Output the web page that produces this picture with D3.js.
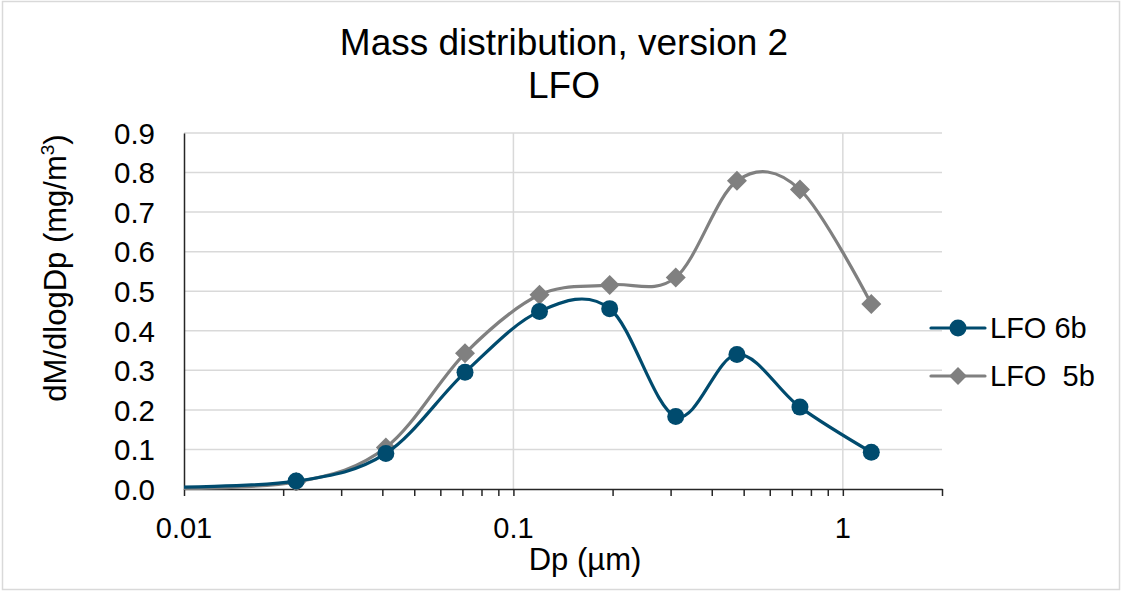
<!DOCTYPE html>
<html><head><meta charset="utf-8">
<script src="https://cdn.jsdelivr.net/npm/d3@7"></script>
<style>body{margin:0;background:#fff}svg{display:block;font-family:"Liberation Sans",Arial,sans-serif}</style>
</head><body><svg id="c" width="1122" height="592"></svg>
<script>
// diameters (µm); first entry is the off-axis lead point that the curve comes from
const dp = [0.0085, 0.0219, 0.041, 0.0713, 0.12, 0.196, 0.311, 0.477, 0.741, 1.22];
const lfo6b = [0.004, 0.02, 0.09, 0.295, 0.449, 0.456, 0.183, 0.34, 0.207, 0.093];
const lfo5b = [0.001, 0.018, 0.105, 0.343, 0.491, 0.516, 0.535, 0.779, 0.757, 0.468];
const yTicks = [0, 0.1, 0.2, 0.3, 0.4, 0.5, 0.6, 0.7, 0.8, 0.9];
const xMajor = [0.01, 0.1, 1];
const seriesNames = ["LFO 6b", "LFO  5b"];

const svg = d3.select("#c");
const L = 184, R = 942, T = 133, B = 489;
const x = d3.scaleLog().domain([0.01, 2]).range([L, R]);
const y = d3.scaleLinear().domain([0, 0.9]).range([B, T]);

svg.append("rect").attr("x", 2.5).attr("y", 1.5).attr("width", 1117).attr("height", 588)
  .attr("fill", "#fff").attr("stroke", "#d9d9d9").attr("stroke-width", 1.5);

// gridlines
svg.append("g").selectAll("line").data(yTicks.slice(1)).join("line")
  .attr("x1", L).attr("x2", R).attr("y1", d => y(d)).attr("y2", d => y(d))
  .attr("stroke", "#d9d9d9").attr("stroke-width", 1.5);
svg.append("g").selectAll("line").data(xMajor.slice(1)).join("line")
  .attr("x1", d => x(d)).attr("x2", d => x(d)).attr("y1", T).attr("y2", B)
  .attr("stroke", "#d9d9d9").attr("stroke-width", 1.5);

// x axis with log ticks
const xTickVals = x.ticks();
const xAxis = svg.append("g").attr("transform", `translate(0,${B})`)
  .call(d3.axisBottom(x).tickValues(xTickVals).tickSize(7).tickSizeOuter(0).tickFormat(() => ""));
xAxis.select(".domain").attr("stroke", "#262626").attr("stroke-width", 1.5);
xAxis.selectAll(".tick line").attr("stroke", "#262626").attr("stroke-width", 1.5);
svg.append("g").selectAll("text").data(xMajor).join("text")
  .attr("x", d => x(d)).attr("y", 538).attr("text-anchor", "middle")
  .attr("font-size", 29).attr("fill", "#000").text(d => String(d));

// y axis
const yAxis = svg.append("g").attr("transform", `translate(${L},0)`)
  .call(d3.axisLeft(y).tickValues(yTicks).tickSize(0).tickFormat(d3.format(".1f")));
yAxis.select(".domain").attr("stroke", "#262626").attr("stroke-width", 1.5);
yAxis.selectAll(".tick text").attr("x", -29).attr("font-size", 29.5).attr("fill", "#000")
  .attr("font-family", "Liberation Sans, Arial, sans-serif").attr("dy", "0.35em");

// titles
svg.append("text").attr("x", 564).attr("y", 55).attr("text-anchor", "middle")
  .attr("font-size", 37).text("Mass distribution, version 2");
svg.append("text").attr("x", 564).attr("y", 98).attr("text-anchor", "middle")
  .attr("font-size", 37).text("LFO");
svg.append("text").attr("x", 585).attr("y", 570).attr("text-anchor", "middle")
  .attr("font-size", 31).text("Dp (µm)");
const yt = svg.append("text").attr("transform", "translate(66,268) rotate(-90)")
  .attr("text-anchor", "middle").attr("font-size", 31);
yt.append("tspan").text("dM/dlogDp (mg/m");
yt.append("tspan").attr("font-size", 19).attr("dy", -12).text("3");
yt.append("tspan").attr("dy", 12).text(")");

// series
svg.append("clipPath").attr("id", "clip").append("rect")
  .attr("x", L).attr("y", 0).attr("width", R - L + 40).attr("height", B + 2);
const colors = ["#004b6e", "#808080"];
const data = [lfo6b, lfo5b];
const line = d3.line().x(d => x(d[0])).y(d => y(d[1])).curve(d3.curveCatmullRom.alpha(0));
const g = svg.append("g").attr("clip-path", "url(#clip)");
[1, 0].forEach(i => {
  const pts = dp.map((v, k) => [v, data[i][k]]);
  g.append("path").attr("d", line(pts)).attr("fill", "none")
    .attr("stroke", colors[i]).attr("stroke-width", 3.2).attr("stroke-linecap", "round");
  const mk = pts.filter(p => p[0] >= 0.01);
  if (i === 0) {
    g.selectAll(null).data(mk).join("circle").attr("cx", d => x(d[0])).attr("cy", d => y(d[1]))
      .attr("r", 8.5).attr("fill", colors[i]);
  } else {
    g.selectAll(null).data(mk).join("path")
      .attr("d", d3.symbol(d3.symbolSquare, 200))
      .attr("transform", d => `translate(${x(d[0])},${y(d[1])}) rotate(45)`).attr("fill", colors[i]);
  }
});

// legend
seriesNames.forEach((n, i) => {
  const ly = 328 + i * 48;
  svg.append("line").attr("x1", 931).attr("x2", 985).attr("y1", ly).attr("y2", ly)
    .attr("stroke", colors[i]).attr("stroke-width", 3.2).attr("stroke-linecap", "round");
  if (i === 0) svg.append("circle").attr("cx", 958).attr("cy", ly).attr("r", 8.5).attr("fill", colors[i]);
  else svg.append("path").attr("d", d3.symbol(d3.symbolSquare, 160))
    .attr("transform", `translate(958,${ly}) rotate(45)`).attr("fill", colors[i]);
  svg.append("text").attr("x", 990).attr("y", ly + 10).attr("font-size", 29)
    .attr("xml:space", "preserve").style("white-space", "pre").text(n);
});
</script></body></html>
